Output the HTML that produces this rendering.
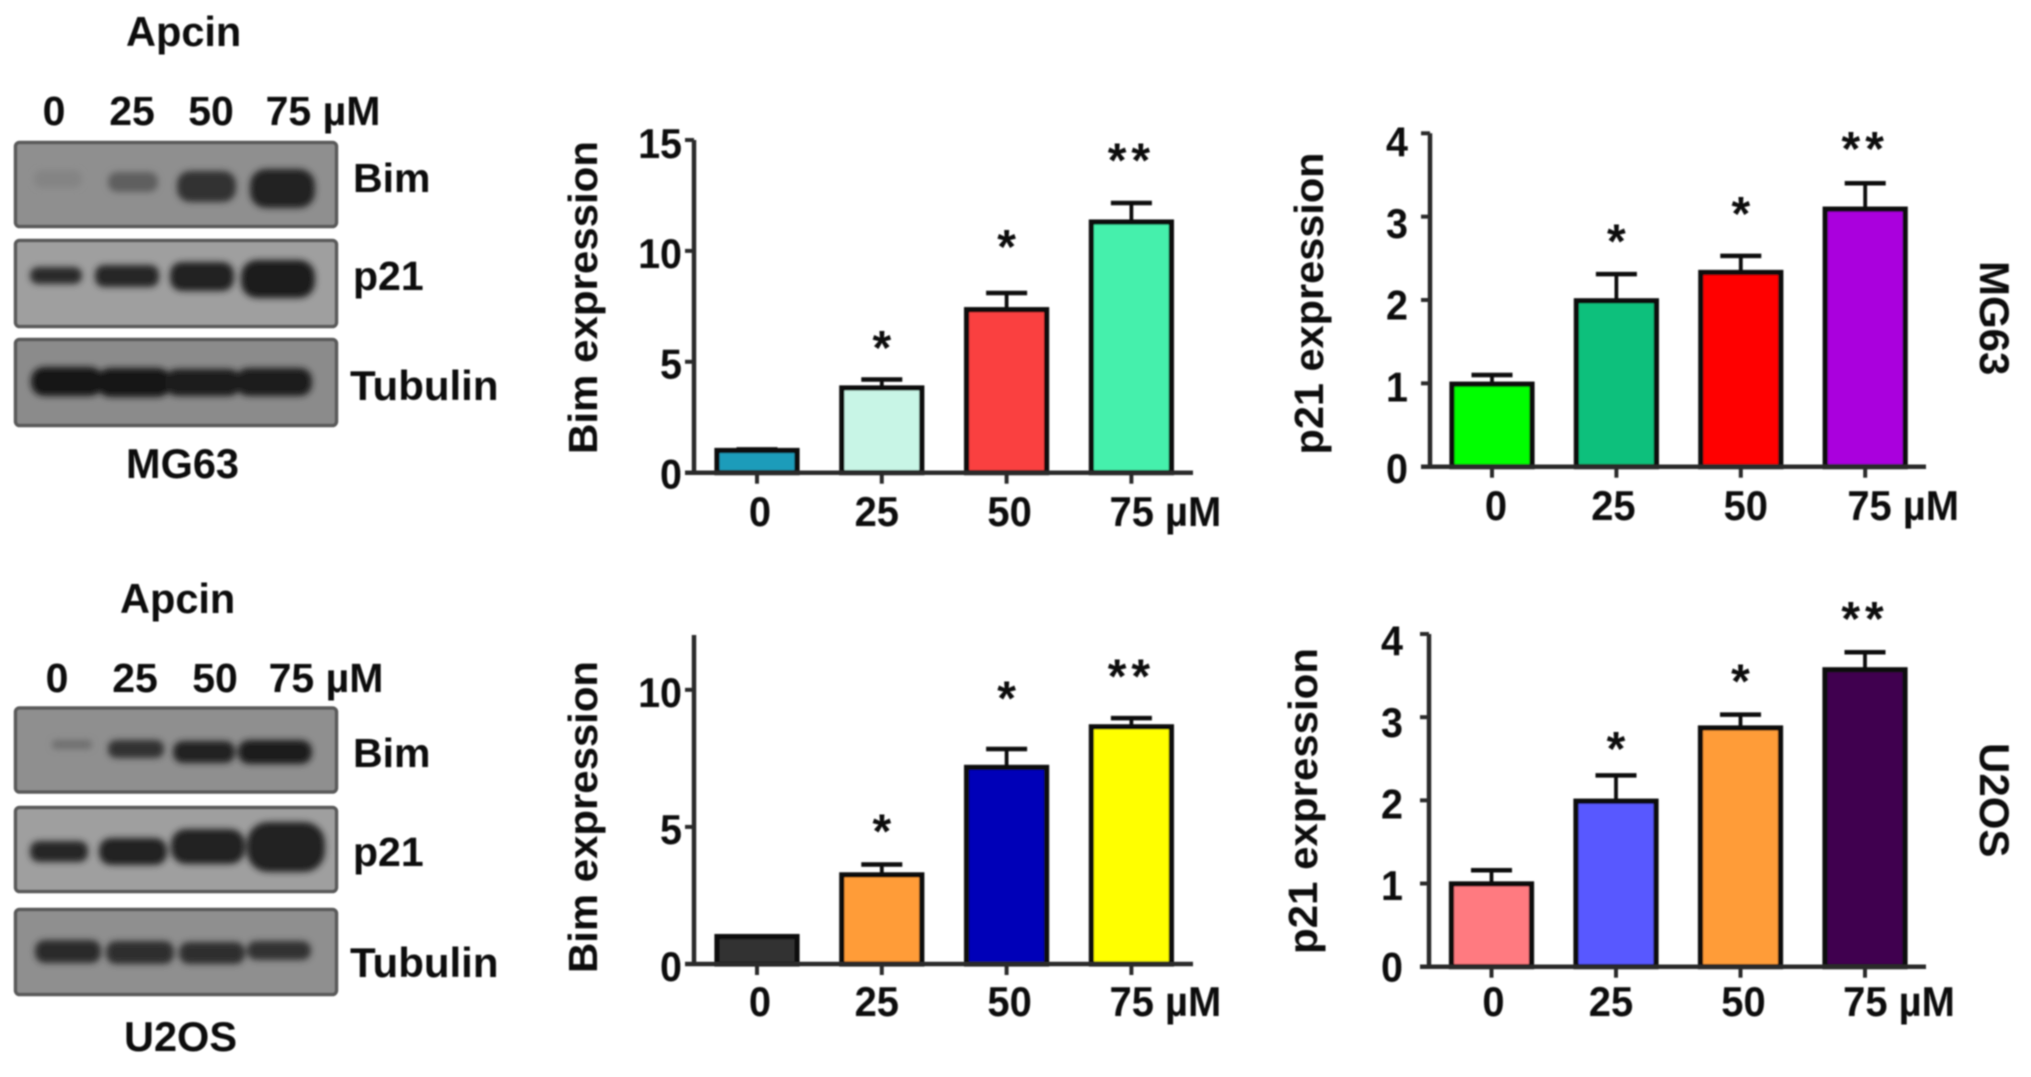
<!DOCTYPE html>
<html lang="en">
<head>
<meta charset="utf-8">
<title>Apcin Bim and p21 expression</title>
<style>
html,body{margin:0;padding:0;background:#fff;width:2031px;height:1077px;overflow:hidden}
svg{display:block}
text{font-family:"Liberation Sans",Arial,sans-serif;font-weight:700;fill:#0e0e0e}
</style>
</head>
<body>
<svg xmlns="http://www.w3.org/2000/svg" width="2031" height="1077" viewBox="0 0 2031 1077">
<defs>
<filter id="soft" filterUnits="userSpaceOnUse" x="0" y="0" width="2031" height="1077"><feGaussianBlur stdDeviation="0.8"/></filter>
<filter id="band" x="-30%" y="-60%" width="160%" height="220%"><feGaussianBlur stdDeviation="3.2"/></filter>
</defs>
<g filter="url(#soft)">

<g>
<text x="126" y="46" font-size="41.5">Apcin</text>
<g font-size="41" text-anchor="middle">
<text x="54" y="125">0</text>
<text x="132" y="125">25</text>
<text x="211" y="125">50</text>
<text x="323" y="125">75 µM</text>
</g>
<rect x="15.5" y="142.5" width="321" height="84" rx="4" fill="#8f8f8f" stroke="#5a5a5a" stroke-width="3.5"/>
<g filter="url(#band)">
<rect x="34" y="170" width="48" height="18" rx="8" fill="#848484"/>
<rect x="108" y="172" width="50" height="20" rx="9" fill="#5e5e5e"/>
<rect x="177" y="171" width="59" height="31" rx="13" fill="#333"/>
<rect x="250" y="169" width="65" height="39" rx="16" fill="#222"/>
</g>
<rect x="15.5" y="240.5" width="321" height="86" rx="4" fill="#9f9f9f" stroke="#5a5a5a" stroke-width="3.5"/>
<g filter="url(#band)">
<rect x="30" y="267" width="52" height="17" rx="8" fill="#2c2c2c"/>
<rect x="95" y="265" width="64" height="22" rx="9" fill="#252525"/>
<rect x="170" y="262" width="64" height="29" rx="12" fill="#202020"/>
<rect x="241" y="260" width="74" height="38" rx="16" fill="#1e1e1e"/>
</g>
<rect x="15.5" y="339.5" width="321" height="86" rx="4" fill="#8b8b8b" stroke="#5a5a5a" stroke-width="3.5"/>
<g filter="url(#band)">
<rect x="31" y="367" width="72" height="29" rx="13" fill="#161616"/>
<rect x="97" y="368" width="74" height="29" rx="13" fill="#161616"/>
<rect x="165" y="369" width="76" height="27" rx="12" fill="#1a1a1a"/>
<rect x="236" y="368" width="76" height="28" rx="12" fill="#1c1c1c"/>
</g>
<g font-size="41">
<text x="353" y="192">Bim</text>
<text x="353" y="290">p21</text>
<text x="350" y="400" font-size="42">Tubulin</text>
</g>
<text x="126" y="478" font-size="41.5">MG63</text>
</g>

<g>
<text x="120" y="613" font-size="41.5">Apcin</text>
<g font-size="41" text-anchor="middle">
<text x="57" y="692">0</text>
<text x="135" y="692">25</text>
<text x="215" y="692">50</text>
<text x="326" y="692">75 µM</text>
</g>
<rect x="15.5" y="708" width="321" height="84" rx="4" fill="#8f8f8f" stroke="#5a5a5a" stroke-width="3.5"/>
<g filter="url(#band)">
<rect x="52" y="740" width="40" height="9" rx="4" fill="#6e6e6e"/>
<rect x="108" y="740" width="56" height="18" rx="8" fill="#333"/>
<rect x="173" y="741" width="62" height="22" rx="10" fill="#222"/>
<rect x="238" y="740" width="74" height="24" rx="11" fill="#1c1c1c"/>
</g>
<rect x="15.5" y="807.5" width="321" height="84" rx="4" fill="#9f9f9f" stroke="#5a5a5a" stroke-width="3.5"/>
<g filter="url(#band)">
<rect x="30" y="841" width="58" height="21" rx="9" fill="#282828"/>
<rect x="99" y="838" width="68" height="27" rx="12" fill="#242424"/>
<rect x="171" y="829" width="74" height="35" rx="15" fill="#222"/>
<rect x="247" y="822" width="78" height="50" rx="21" fill="#202020"/>
</g>
<rect x="15.5" y="909.5" width="321" height="85" rx="4" fill="#8f8f8f" stroke="#5a5a5a" stroke-width="3.5"/>
<g filter="url(#band)">
<rect x="35" y="940" width="66" height="23" rx="10" fill="#2a2a2a"/>
<rect x="106" y="941" width="68" height="23" rx="10" fill="#2e2e2e"/>
<rect x="179" y="942" width="66" height="22" rx="10" fill="#2e2e2e"/>
<rect x="247" y="941" width="64" height="19" rx="9" fill="#333"/>
</g>
<g font-size="41">
<text x="353" y="767">Bim</text>
<text x="353" y="866">p21</text>
<text x="350" y="977" font-size="42">Tubulin</text>
</g>
<text x="124" y="1051" font-size="41.5">U2OS</text>
</g>

<g id="chart-a"></g>
<g id="chart-b"></g>
<g id="chart-c"></g>
<g id="chart-d"></g>

<text transform="translate(1980,261) rotate(90)" font-size="42">MG63</text>
<text transform="translate(1980,743) rotate(90)" font-size="42">U2OS</text>
</g>
</svg>

<script>
// Shared categories
const doseCategories = ['0', '25', '50', '75 µM'];
const significance = ['', '*', '*', '**'];

// Bim expression, MG63
const bimMg63Values = [1.0, 3.82, 7.35, 11.3];
const bimMg63ErrorTops = [1.05, 4.2, 8.1, 12.16];
const bimMg63StarLevels = [0, 5.84, 10.4, 14.3];
const bimMg63Ticks = [0, 5, 10, 15];
const bimMg63Colors = ['#1a9cba', '#c8f5e6', '#fa4040', '#44f0ac'];

// p21 expression, MG63
const p21Mg63Values = [0.99, 1.99, 2.33, 3.09];
const p21Mg63ErrorTops = [1.1, 2.31, 2.53, 3.4];
const p21Mg63StarLevels = [0, 2.76, 3.09, 3.87];
const p21Mg63Ticks = [0, 1, 2, 3, 4];
const p21Mg63Colors = ['#00ff00', '#0cc07c', '#ff0000', '#aa00dd'];

// Bim expression, U2OS
const bimU2osValues = [1.0, 3.25, 7.17, 8.65];
const bimU2osErrorTops = [1.0, 3.63, 7.84, 8.97];
const bimU2osStarLevels = [0, 5.02, 9.86, 10.66];
const bimU2osTicks = [0, 5, 10];
const bimU2osColors = ['#333333', '#ff9c38', '#0000b8', '#ffff00'];

// p21 expression, U2OS
const p21U2osValues = [0.995, 1.99, 2.87, 3.57];
const p21U2osErrorTops = [1.16, 2.3, 3.03, 3.78];
const p21U2osStarLevels = [0, 2.68, 3.49, 4.24];
const p21U2osTicks = [0, 1, 2, 3, 4];
const p21U2osColors = ['#ff7a80', '#5858ff', '#ff9c38', '#400050'];

const SVG_NS = 'http://www.w3.org/2000/svg';
const AXIS_COLOR = '#2a2a2a';
const INK = '#0c0c0c';

function make(parent, tag, attrs, content) {
  const node = document.createElementNS(SVG_NS, tag);
  for (const key in attrs) node.setAttribute(key, attrs[key]);
  if (content !== undefined) node.textContent = content;
  parent.appendChild(node);
  return node;
}

function drawChart(opts) {
  const root = document.getElementById(opts.id);
  const yScale = v => opts.y0 - (v / opts.yMax) * (opts.y0 - opts.yTop);
  const xScale = i => opts.x0 + i * opts.step;

  // y axis
  const yAxis = make(root, 'line', {x1: opts.axisX, x2: opts.axisX, y1: yScale(opts.yMax), y2: opts.y0, stroke: AXIS_COLOR, 'stroke-width': 4.5});
  
  

  opts.ticks.forEach(t => {
    const tick = make(root, 'line', {x1: opts.axisX - 9, x2: opts.axisX, y1: yScale(t), y2: yScale(t), stroke: AXIS_COLOR, 'stroke-width': 4});
    
    
    const shift = opts.labelShiftBase + opts.labelShiftTop * t / opts.yMax;
    const label = make(root, 'text', {transform: 'translate(' + opts.yLabelRight + ',' + (yScale(t) + shift + 15) + ') scale(0.94,1)', 'font-size': 42, 'text-anchor': 'end'}, String(t));
    
    
  });

  // bars and error bars
  opts.values.forEach((v, i) => {
    const cx = xScale(i);
    const errTop = yScale(opts.errorTops[i]);
    if (opts.errorTops[i] > v) {
      const stem = make(root, 'line', {x1: cx, x2: cx, y1: yScale(v), y2: errTop, stroke: INK, 'stroke-width': 3.8});
      
      
      const cap = make(root, 'line', {x1: cx - 20.5, x2: cx + 20.5, y1: errTop, y2: errTop, stroke: INK, 'stroke-width': 4.5});
      
      
    }
    const bar = make(root, 'rect', {x: cx - 40, y: yScale(v), width: 80, height: opts.y0 - yScale(v), fill: opts.colors[i], stroke: INK, 'stroke-width': 5.2});
    
    

    if (significance[i]) {
      const star = make(root, 'text', {x: cx, y: yScale(opts.starLevels[i]) + 21, 'font-size': 48, 'text-anchor': 'middle', 'letter-spacing': significance[i].length > 1 ? 5 : 0}, significance[i]);
      
      
    }

    const xTick = make(root, 'line', {x1: cx, x2: cx, y1: opts.y0, y2: opts.y0 + 11, stroke: AXIS_COLOR, 'stroke-width': 4});
    
    
    const xLabel = make(root, 'text', {transform: 'translate(' + (cx + opts.labelNudge[i]) + ',' + opts.xLabelBase + ') scale(0.95,1)', 'font-size': 42, 'text-anchor': 'middle'}, doseCategories[i]);
    
    
  });

  // x axis on top of the bar bases
  const xAxis = make(root, 'line', {x1: opts.axisX - 9, x2: opts.axisEnd, y1: opts.y0, y2: opts.y0, stroke: AXIS_COLOR, 'stroke-width': 4.5});
  
  

  const title = make(root, 'text', {transform: 'translate(' + opts.titleX + ',' + opts.titleY + ') rotate(-90)', 'font-size': 41, textLength: opts.titleLength, lengthAdjust: 'spacingAndGlyphs'}, opts.title);
  
  
}

drawChart({
  id: 'chart-a', values: bimMg63Values, errorTops: bimMg63ErrorTops, starLevels: bimMg63StarLevels,
  ticks: bimMg63Ticks, colors: bimMg63Colors, yMax: 15, y0: 472.7, yTop: 140,
  axisX: 694, axisEnd: 1193, x0: 757, step: 124.8, yLabelRight: 682, labelShiftBase: 1, labelShiftTop: 2,
  labelNudge: [3, -5, 3, 34], xLabelBase: 526,
  title: 'Bim expression', titleX: 597, titleY: 454, titleLength: 313
});

drawChart({
  id: 'chart-b', values: p21Mg63Values, errorTops: p21Mg63ErrorTops, starLevels: p21Mg63StarLevels,
  ticks: p21Mg63Ticks, colors: p21Mg63Colors, yMax: 4, y0: 466.7, yTop: 133.3,
  axisX: 1430, axisEnd: 1926, x0: 1492, step: 124.4, yLabelRight: 1408, labelShiftBase: 1.4, labelShiftTop: 6.6,
  labelNudge: [4, -3, 5, 38], xLabelBase: 520,
  title: 'p21  expression', titleX: 1323, titleY: 454.5, titleLength: 302
});

drawChart({
  id: 'chart-c', values: bimU2osValues, errorTops: bimU2osErrorTops, starLevels: bimU2osStarLevels,
  ticks: bimU2osTicks, colors: bimU2osColors, yMax: 12, y0: 964, yTop: 635,
  axisX: 694, axisEnd: 1193, x0: 757, step: 124.8, yLabelRight: 682, labelShiftBase: 2, labelShiftTop: 0,
  labelNudge: [3, -5, 3, 34], xLabelBase: 1016,
  title: 'Bim expression', titleX: 597, titleY: 973, titleLength: 312
});

drawChart({
  id: 'chart-d', values: p21U2osValues, errorTops: p21U2osErrorTops, starLevels: p21U2osStarLevels,
  ticks: p21U2osTicks, colors: p21U2osColors, yMax: 4, y0: 966.7, yTop: 634,
  axisX: 1429, axisEnd: 1926, x0: 1491.5, step: 124.5, yLabelRight: 1403, labelShiftBase: 0, labelShiftTop: 6.6,
  labelNudge: [2, -5, 3, 34], xLabelBase: 1016,
  title: 'p21  expression', titleX: 1317, titleY: 954, titleLength: 306
});
</script>
</body>
</html>
